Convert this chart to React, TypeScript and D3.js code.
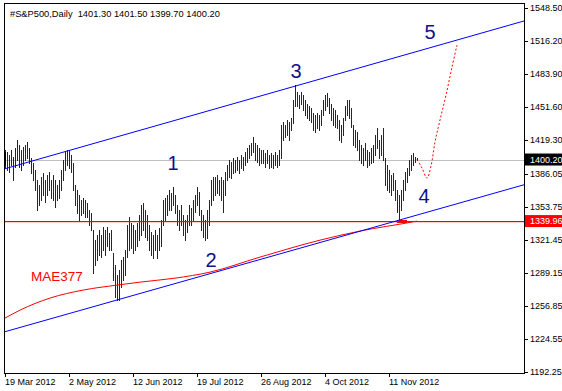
import React from 'react';
import * as d3 from 'd3';

const W = 562;
const H = 391;

// Daily bar highs / lows (index 0 = 19 Mar 2012)
const highs = [
  1410, 1408, 1405, 1410, 1403, 1411, 1419, 1414, 1410, 1412,
  1414, 1417, 1411, 1402, 1397, 1390, 1380, 1375, 1383, 1387,
  1380, 1385, 1388, 1380, 1385, 1380, 1375, 1380, 1390, 1400,
  1408, 1410, 1410, 1405, 1397, 1375, 1370, 1365, 1361, 1363,
  1361, 1358, 1351, 1348, 1331, 1321, 1326, 1331, 1326, 1334,
  1331, 1334, 1328, 1331, 1309, 1297, 1287, 1292, 1302, 1305,
  1312, 1336, 1344, 1338, 1336, 1331, 1338, 1346, 1356, 1358,
  1351, 1346, 1336, 1329, 1326, 1331, 1326, 1333, 1341, 1361,
  1363, 1365, 1370, 1367, 1373, 1365, 1356, 1351, 1356, 1346,
  1341, 1346, 1356, 1353, 1361, 1365, 1373, 1368, 1351, 1346,
  1341, 1351, 1361, 1380, 1383, 1383, 1385, 1380, 1383, 1380,
  1388, 1395, 1400, 1398, 1402, 1400, 1403, 1400, 1405, 1403,
  1408, 1411, 1414, 1416, 1422, 1416, 1414, 1411, 1410, 1410,
  1407, 1410, 1405, 1407, 1405, 1408, 1405, 1410, 1434, 1437,
  1434, 1439, 1437, 1441, 1458, 1473, 1466, 1463, 1466, 1463,
  1458, 1455, 1453, 1451, 1446, 1444, 1446, 1444, 1449, 1458,
  1463, 1465, 1460, 1455, 1451, 1449, 1444, 1439, 1434, 1441,
  1453, 1458, 1458, 1451, 1434, 1429, 1427, 1419, 1414, 1411,
  1416, 1410, 1408, 1411, 1414, 1424, 1431, 1419, 1424, 1431,
  1402, 1395, 1390, 1385, 1387, 1380, 1370, 1365, 1370, 1380,
  1388, 1392, 1400, 1405, 1407, 1403, 1401.5,
];
const lows = [
  1392, 1390, 1388, 1395, 1380, 1393, 1400, 1393, 1390, 1395,
  1400, 1402, 1397, 1387, 1380, 1370, 1351, 1356, 1361, 1365,
  1359, 1365, 1370, 1363, 1361, 1354, 1361, 1363, 1370, 1380,
  1390, 1395, 1392, 1388, 1370, 1356, 1348, 1341, 1346, 1348,
  1344, 1344, 1336, 1331, 1289, 1297, 1302, 1307, 1305, 1312,
  1307, 1316, 1312, 1312, 1282, 1266, 1263, 1263, 1275, 1282,
  1287, 1305, 1312, 1314, 1309, 1312, 1316, 1321, 1326, 1331,
  1324, 1321, 1312, 1307, 1304, 1312, 1304, 1312, 1316, 1336,
  1341, 1346, 1351, 1351, 1356, 1348, 1336, 1331, 1336, 1326,
  1321, 1329, 1336, 1336, 1341, 1349, 1356, 1346, 1331, 1324,
  1321, 1323, 1336, 1356, 1361, 1365, 1367, 1365, 1361, 1349,
  1365, 1380, 1383, 1382, 1387, 1388, 1390, 1387, 1392, 1390,
  1395, 1398, 1402, 1405, 1408, 1400, 1398, 1395, 1397, 1397,
  1393, 1397, 1392, 1393, 1392, 1395, 1393, 1395, 1402, 1419,
  1422, 1424, 1419, 1429, 1436, 1453, 1453, 1451, 1455, 1449,
  1444, 1441, 1439, 1437, 1429, 1427, 1431, 1429, 1434, 1444,
  1449, 1453, 1446, 1439, 1434, 1432, 1431, 1419, 1417, 1424,
  1439, 1444, 1441, 1432, 1414, 1412, 1410, 1400, 1397, 1395,
  1400, 1393, 1395, 1397, 1398, 1405, 1411, 1402, 1405, 1400,
  1375, 1370, 1368, 1365, 1370, 1361, 1349, 1341, 1351, 1361,
  1370, 1378, 1385, 1390, 1395, 1398, 1399.7,
];

// x-axis date labels and the bar index they sit on
const dateLabels = ['19 Mar 2012', '2 May 2012', '12 Jun 2012', '19 Jul 2012', '26 Aug 2012', '4 Oct 2012', '11 Nov 2012'];
const dateIdx = [0, 32, 64, 96, 128, 160, 192];

// price axis labels
const priceTicks = [1548.5, 1516.2, 1483.9, 1451.6, 1419.3, 1386.05, 1353.75, 1321.45, 1289.15, 1256.85, 1224.55, 1192.25];
const priceLabels = ['1548.50', '1516.20', '1483.90', '1451.60', '1419.30', '1386.05', '1353.75', '1321.45', '1289.15', '1256.85', '1224.55', '1192.25'];

// channel lines (bar index, price)
const upperIdx = [-0.5, 259.5];
const upperVal = [1390.9, 1535.8];
const lowerIdx = [-0.5, 259.5];
const lowerVal = [1231.4, 1375.5];

// MAE377 moving average
const maeIdx = [0, 7.5, 22.5, 39, 56, 67.5, 85, 102.5, 127.5, 157.5, 177.5, 204, 206];
const maeVal = [1245.0, 1252.8, 1264.6, 1272.4, 1277.3, 1280.2, 1284.1, 1290.0, 1304.7, 1321.3, 1330.2, 1339.2, 1339.96];

// forecast path (dotted red)
const fcIdx = [206, 208.5, 211, 213, 215, 217.5, 220.5, 223.5, 226];
const fcVal = [1400.2, 1391.8, 1382.0, 1393.8, 1417.3, 1438.8, 1463.3, 1490.7, 1512.2];

// Elliott wave labels
const waveText = ['1', '2', '3', '4', '5'];
const waveIdx = [84, 103, 145.5, 209.5, 212.5];
const waveVal = [1396.7, 1301.8, 1486.8, 1364.4, 1525.0];

const bidPrice = 1400.2;
const maePrice = 1339.96;
const headerText = '#S&P500,Daily\u00a0\u00a01401.30 1401.50 1399.70 1400.20';

const FONT = "'Liberation Sans', Arial, sans-serif";

export default function App() {
  const L = 4, T = 3, R = 524, B = 373;
  const x = d3.scaleLinear().domain([-0.5, 259.5]).range([L, R]);
  const y = d3.scaleLinear().domain([1192.25, 1548.5]).range([372, 8]);

  const seg = (idx: number[], val: number[]) =>
    d3.line<number>().x((_, k) => x(idx[k])).y((_, k) => y(val[k]))(idx.map((_, k) => k)) || '';

  const maePath = d3.line<number>()
    .x((_, k) => x(maeIdx[k]))
    .y((_, k) => y(maeVal[k]))
    .curve(d3.curveMonotoneX)(maeIdx.map((_, k) => k)) || '';

  const fcPath = d3.line<number>()
    .x((_, k) => x(fcIdx[k]))
    .y((_, k) => y(fcVal[k]))
    .curve(d3.curveCatmullRom)(fcIdx.map((_, k) => k)) || '';

  const yBid = y(bidPrice);
  const yMae = y(maePrice);
  const yMaeR = Math.round(yMae);

  return (
    <svg width={W} height={H} style={{ position: 'fixed', left: 0, top: 0, background: '#fff' }} fontFamily={FONT}>
      <defs>
        <clipPath id="plot">
          <rect x={L} y={T} width={R - L} height={B - T} />
        </clipPath>
      </defs>
      <rect x={0} y={0} width={W} height={H} fill="#fff" />
      <g clipPath="url(#plot)">
        {/* bid line */}
        <rect x={L} y={Math.round(yBid)} width={R - L} height={1} fill="#c0c0c0" />
        {/* bars */}
        <g stroke="#262626" strokeWidth={1} shapeRendering="crispEdges">
          {highs.map((h, i) => (
            <line key={i} x1={x(i) + 0.5} x2={x(i) + 0.5} y1={y(h)} y2={y(lows[i]) + 1} />
          ))}
        </g>
        {/* MAE horizontal level */}
        <rect x={L} y={yMaeR} width={R - L} height={1.2} fill="#ff0000" />
        <rect x={x(196)} y={yMaeR - 1} width={x(201) - x(196)} height={3} fill="#ff0000" />
        {/* MAE curve */}
        <path d={maePath} fill="none" stroke="#ff0000" strokeWidth={1} />
        {/* channel */}
        <path d={seg(upperIdx, upperVal)} fill="none" stroke="#0000ff" strokeWidth={1} />
        <path d={seg(lowerIdx, lowerVal)} fill="none" stroke="#0000ff" strokeWidth={1} />
        {/* forecast */}
        <path d={fcPath} fill="none" stroke="#ff0000" strokeWidth={1} strokeDasharray="2,2" />
        {/* wave labels */}
        {waveText.map((t, k) => (
          <text key={t} x={x(waveIdx[k])} y={y(waveVal[k])} fontSize={20} fill="#10108a" textAnchor="middle" dominantBaseline="central">{t}</text>
        ))}
        <text x={31} y={281} fontSize={13.5} fill="#ff0000">MAE377</text>
        {/* left edge marker */}
        <rect x={L} y={152} width={2} height={14} fill="#000" />
      </g>
      {/* frame */}
      <rect x={L + 0.5} y={T + 0.5} width={R - L} height={B - T} fill="none" stroke="#000" strokeWidth={1} shapeRendering="crispEdges" />
      {/* header */}
      <text x={10} y={17} fontSize={9.3} fill="#000">{headerText}</text>
      {/* price axis */}
      {priceTicks.map((p, k) => (
        <g key={k}>
          <line x1={R} x2={R + 4} y1={Math.round(y(p)) + 0.5} y2={Math.round(y(p)) + 0.5} stroke="#000" shapeRendering="crispEdges" />
          <text x={530} y={y(p)} fontSize={9} fill="#000" dominantBaseline="central">{priceLabels[k]}</text>
        </g>
      ))}
      <rect x={R + 1} y={yBid - 6} width={W - R - 1} height={12} fill="#000" />
      <text x={530} y={yBid} fontSize={9} fill="#fff" dominantBaseline="central">{bidPrice.toFixed(2)}</text>
      <rect x={R + 1} y={yMae - 6} width={W - R - 1} height={12} fill="#ff0000" />
      <text x={530} y={yMae} fontSize={9} fill="#fff" dominantBaseline="central">{maePrice.toFixed(2)}</text>
      {/* date axis */}
      {dateIdx.map((d, k) => (
        <g key={k}>
          <line x1={Math.round(x(d)) + 0.5} x2={Math.round(x(d)) + 0.5} y1={B} y2={B + 4} stroke="#000" shapeRendering="crispEdges" />
          <text x={x(d)} y={385} fontSize={9} fill="#000">{dateLabels[k]}</text>
        </g>
      ))}
    </svg>
  );
}
